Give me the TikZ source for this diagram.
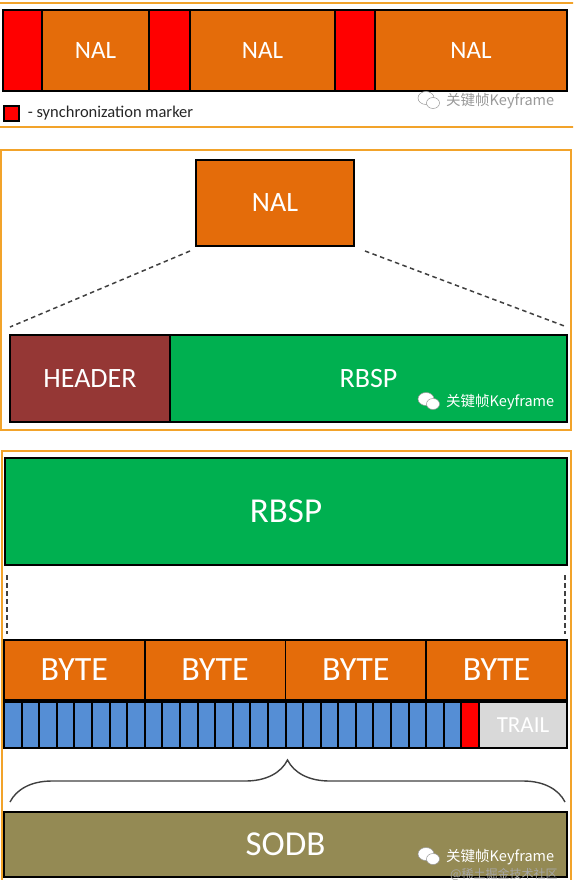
\documentclass[tikz,border=0pt]{standalone}
\usepackage{fontspec}
\setmainfont{Carlito}
\newfontfamily\cjkfont{Noto Sans CJK SC}
\usetikzlibrary{positioning,decorations.pathreplacing}
\definecolor{FrameOrange}{HTML}{F2A32A}
\definecolor{NalOrange}{HTML}{E46C0A}
\definecolor{SyncRed}{HTML}{FF0000}
\definecolor{HeaderRed}{HTML}{953735}
\definecolor{RbspGreen}{HTML}{00B050}
\definecolor{BitBlue}{HTML}{558ED5}
\definecolor{TrailGrey}{HTML}{D9D9D9}
\definecolor{SodbOlive}{HTML}{948A54}
\newcommand{\fsz}[1]{\fontsize{#1}{#1}\selectfont}
\newcommand{\wxlogo}[3]{%
  \filldraw[fill=#3,draw=black!40,line width=0.5pt] (#1,#2) ellipse (8pt and 6.5pt);
  \filldraw[fill=#3,draw=black!40,line width=0.5pt] (#1+7,#2+5) ellipse (6.5pt and 5.5pt);}

\begin{document}
\begin{tikzpicture}[x=1pt,y=-1pt,
    panelframe/.style={draw=FrameOrange,line width=2pt},
    seg/.style={draw=black,line width=1.6pt,inner sep=0pt,outer sep=0pt,text=white},
    topseg/.style={seg,minimum height=81pt,font=\fsz{25}},
    midseg/.style={seg,minimum height=87pt,font=\fsz{28}},
    bigseg/.style={seg,font=\fsz{35}},
    byteseg/.style={seg,fill=NalOrange,minimum width=140.75pt,minimum height=60pt,font=\fsz{34}},
    bitseg/.style={seg,line width=2pt,minimum width=17.59pt,minimum height=46pt},
    zoomline/.style={draw=black!75,line width=1.5pt,dash pattern=on 4.5pt off 3.5pt},
    bracestyle/.style={draw=black!75,line width=1.4pt,decorate,decoration={brace,amplitude=42pt}},
    wmark/.style={inner sep=0pt,font=\cjkfont\fsz{14.5}}
  ]
    \clip (0,0) rectangle (573,880);
    \useasboundingbox (0,0) rectangle (573,880);

    % NAL stream with sync markers
    \draw[panelframe] (-3,3) rectangle (576,127);
    \node[topseg,fill=SyncRed,minimum width=39pt] (sync1) at (22.5,50.5) {};
    \node[topseg,fill=NalOrange,minimum width=107pt,right=0pt of sync1] (nal1) {NAL};
    \node[topseg,fill=SyncRed,minimum width=41pt,right=0pt of nal1] (sync2) {};
    \node[topseg,fill=NalOrange,minimum width=145pt,right=0pt of sync2] (nal2) {NAL};
    \node[topseg,fill=SyncRed,minimum width=40pt,right=0pt of nal2] (sync3) {};
    \node[topseg,fill=NalOrange,minimum width=192pt,right=0pt of sync3] (nal3) {NAL};
    \node[draw=black,line width=1.2pt,fill=SyncRed,minimum size=15pt,inner sep=0pt] (key) at (11.5,113.5) {};
    \node[right=8pt of key,inner sep=0pt,font=\fsz{16.5},text=black!85] (keytext) {- synchronization marker};
    \wxlogo{426}{98}{white}
    \node[wmark,text=black!40,anchor=west] (wm1) at (446,101) {关键帧Keyframe};

    % NAL = header + RBSP
    \draw[panelframe] (1,150) rectangle (571,430);
    \node[midseg,fill=NalOrange,minimum width=158pt,minimum height=86pt] (nalbig) at (275,203) {NAL};
    \node[midseg,fill=HeaderRed,minimum width=160pt] (header) at (90,378.5) {HEADER};
    \node[midseg,fill=RbspGreen,minimum width=397pt,right=0pt of header] (rbsp) {RBSP};
    \draw[zoomline] ([xshift=-6pt,yshift=-5pt]nalbig.south west) -- ([yshift=8pt]header.north west);
    \draw[zoomline] ([xshift=11pt,yshift=-5pt]nalbig.south east) -- ([yshift=8pt]rbsp.north east);
    \wxlogo{426}{399}{white}
    \node[wmark,text=white,anchor=west] (wm2) at (446,402) {关键帧Keyframe};

    % RBSP = bytes = SODB + trailing bits
    \draw[panelframe] (2,451) rectangle (571,886);
    \node[bigseg,fill=RbspGreen,minimum width=562pt,minimum height=107pt] (rbsp2) at (286,511.5) {RBSP};
    \foreach \i in {1,...,4}
      \node[byteseg] (byte\i) at ({4+(\i-0.5)*140.75},670) {BYTE};
    \draw[zoomline] ([xshift=2pt,yshift=-10pt]rbsp2.south west) -- ([xshift=3pt,yshift=6pt]byte1.north west);
    \draw[zoomline] ([xshift=-2pt,yshift=-10pt]rbsp2.south east) -- ([xshift=-2pt,yshift=6pt]byte4.north east);
    \foreach \i in {1,...,26}
      \node[bitseg,fill=BitBlue] (bit\i) at ({4+(\i-0.5)*17.59375},725) {};
    \node[bitseg,fill=SyncRed,right=0pt of bit26] (stopbit) {};
    \node[bitseg,fill=TrailGrey,minimum width=87.97pt,right=0pt of stopbit,font=\fsz{23}] (trail) {TRAIL};
    \node[bigseg,fill=SodbOlive,minimum width=563pt,minimum height=65pt] (sodb) at (285.5,844.5) {SODB};
    \draw[bracestyle] ([xshift=6pt,yshift=10pt]sodb.north west) -- ([xshift=-2pt,yshift=10pt]sodb.north east);
    \wxlogo{426}{854}{white}
    \node[wmark,text=white,anchor=west] (wm3) at (446,857) {关键帧Keyframe};
    \node[wmark,text=black!35,anchor=west,font=\cjkfont\fsz{12}] (wm4) at (450,874) {@稀土掘金技术社区};
  \end{tikzpicture}
\end{document}
